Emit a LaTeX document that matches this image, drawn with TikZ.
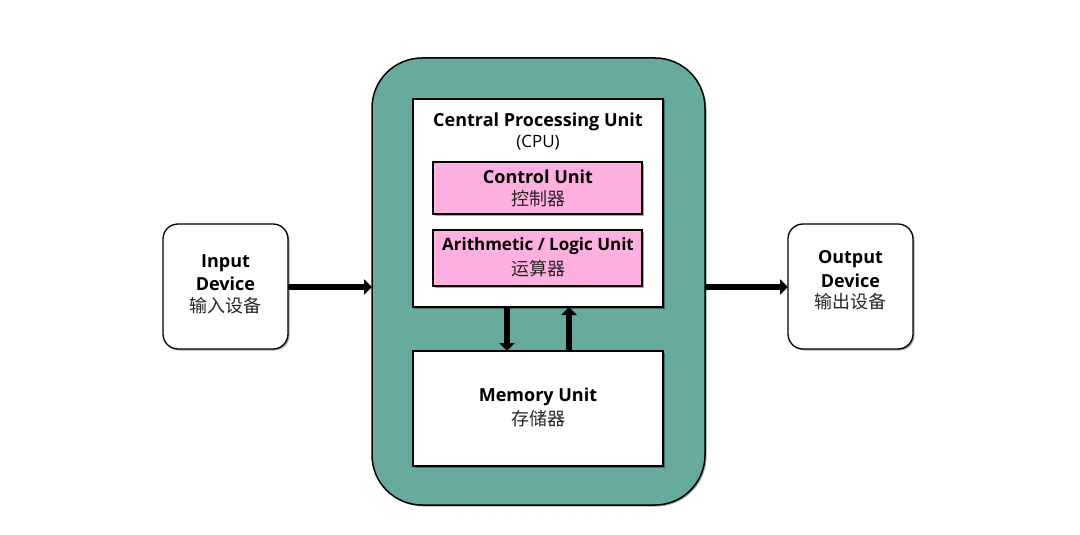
\documentclass[tikz,border=0pt]{standalone}
\usepackage{fontspec}
\setmainfont{Open Sans}
\newfontfamily\cjk{Noto Sans CJK SC}
\usetikzlibrary{arrows.meta,shadows}
\definecolor{tealbg}{HTML}{67AB9F}
\definecolor{pinkbg}{HTML}{FFB0DE}
\tikzset{
  x=1pt,y=-1pt,
  boxsh/.style={drop shadow={shadow xshift=1.5pt,shadow yshift=-1.5pt,opacity=0.35,fill=black}},
  plainbox/.style={draw=black,line width=1.3pt,fill=white,boxsh},
  unitbox/.style={draw=black,line width=1.3pt,fill=pinkbg,boxsh},
  devbox/.style={draw=black,line width=1.3pt,fill=white,rounded corners=15pt,boxsh},
  bigarrow/.style={line width=5.5pt,-{Triangle[length=8pt,width=15pt]}},
  en/.style={font=\bfseries\fontsize{18}{21}\selectfont},
  zh/.style={font=\cjk\fontsize{18}{21}\selectfont,text=black!85},
}
\begin{document}
\begin{tikzpicture}
\useasboundingbox (0,0) rectangle (1080,535);
% outer green
\draw[line width=1.5pt,fill=tealbg,rounded corners=50pt,boxsh] (372,58) rectangle (705,505);
% cpu
\draw[plainbox] (413,99) rectangle (663,307);
\node[en] (cpuT) at (538,122) {Central Processing Unit};
\node[font=\fontsize{17}{20}\selectfont] (cpuA) at (538,143) {(CPU)};
% control unit
\draw[unitbox] (433,162) rectangle (642,214);
\node[en] (cu1) at (538,177) {Control Unit};
\node[zh] (cu2) at (538,199) {控制器};
% alu
\draw[unitbox] (433,230) rectangle (642,286);
\node[en,font=\bfseries\fontsize{17}{20}\selectfont] (alu1) at (538,246) {Arithmetic / Logic Unit};
\node[zh] (alu2) at (538,269) {运算器};
% memory
\draw[plainbox] (413,351) rectangle (663,466);
\node[en] (mem1) at (538,397) {Memory Unit};
\node[zh] (mem2) at (538,419) {存储器};
% devices
\draw[devbox] (163,224) rectangle (288,349);
\node[en] (in1) at (225.5,263) {Input};
\node[en] (in2) at (225.5,284) {Device};
\node[zh] (in3) at (225.5,306) {输入设备};
\draw[devbox] (788,224) rectangle (913,349);
\node[en] (out1) at (850.5,259) {Output};
\node[en] (out2) at (850.5,281) {Device};
\node[zh] (out3) at (850.5,302) {输出设备};
% connectors
\coordinate (inE) at (288,287);
\coordinate (outerW) at (372,287);
\coordinate (outerE) at (705,287);
\coordinate (outW) at (788,287);
\draw[bigarrow] (inE) -- (outerW);
\draw[bigarrow] (outerE) -- (outW);
\coordinate (dA) at (507,307);
\coordinate (dB) at (507,351);
\coordinate (uA) at (569,351);
\coordinate (uB) at (569,307);
\draw[bigarrow] (dA) -- (dB);
\draw[bigarrow] (uA) -- (uB);
\end{tikzpicture}
\end{document}
